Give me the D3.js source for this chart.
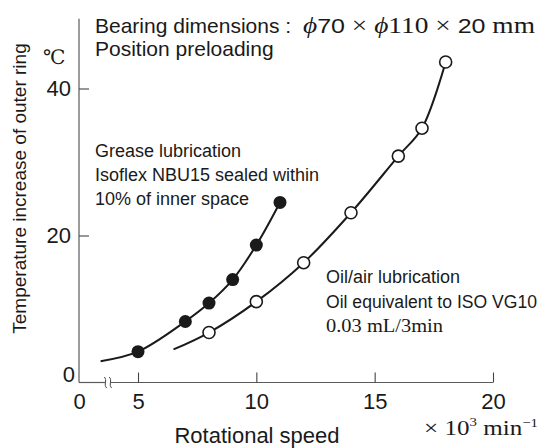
<!DOCTYPE html>
<html>
<head>
<meta charset="utf-8">
<script src="https://cdn.jsdelivr.net/npm/d3@7"></script>
<style>
  html, body { margin: 0; padding: 0; background: #fff; }
  svg { display: block; }
  .sans { font-family: "Liberation Sans", Arial, Helvetica, sans-serif; fill: #1a1a1a; }
  .serif { font-family: "Liberation Serif", "Times New Roman", serif; fill: #1a1a1a; }
</style>
</head>
<body>
<svg id="chart" width="547" height="448"></svg>
<script>
// ---- data ----
const speedTicks = [0, 5, 10, 15, 20];          // x10^3 min^-1
const tempTicks = [0, 20, 40];                  // deg C
const greaseSpeed = [5, 7, 8, 9, 10, 11];
const greaseTemp = [4.2, 8.3, 10.8, 14.0, 18.7, 24.5];
const oilSpeed = [8, 10, 12, 14, 16, 17, 18];
const oilTemp = [6.8, 11.0, 16.3, 23.1, 30.8, 34.6, 43.6];
const greaseCurveStart = [3.42, 2.9];
const oilCurveStart = [6.5, 4.5];
const axisBreakAt = 3.73;
const yAxisTop = 49.5;

const svg = d3.select("#chart");

// ---- scales (broken x axis: 0..3 compressed) ----
const lin = d3.scaleLinear().domain([5, 20]).range([138, 493]);
const x = d3.scaleLinear().domain([0, 3, 20]).range([79, lin(3), 493]);
const y = d3.scaleLinear().domain([0, 40]).range([382.5, 88.5]);

const axisColor = "#5a5a5a";

// ---- axis lines ----
const bx = x(axisBreakAt);
svg.append("line").attr("x1", x(0)).attr("x2", bx - 2.5).attr("y1", y(0)).attr("y2", y(0))
  .attr("stroke", axisColor).attr("stroke-width", 1.2);
svg.append("line").attr("x1", bx + 2.5).attr("x2", x(20)).attr("y1", y(0)).attr("y2", y(0))
  .attr("stroke", axisColor).attr("stroke-width", 1.2);
svg.append("line").attr("x1", x(0)).attr("x2", x(0)).attr("y1", y(0)).attr("y2", y(yAxisTop))
  .attr("stroke", axisColor).attr("stroke-width", 1.2);
// break squiggles
[-2.5, 2.5].forEach(off => {
  const cx = bx + off, cy = y(0);
  svg.append("path")
    .attr("d", `M${cx - 1.2},${cy - 5.5} C${cx + 2.2},${cy - 2.5} ${cx - 2.2},${cy + 2.5} ${cx + 1.2},${cy + 5.5}`)
    .attr("fill", "none").attr("stroke", "#444").attr("stroke-width", 1);
});

// ---- x axis ticks & labels ----
const gx = svg.append("g").attr("transform", `translate(0,${y(0)})`)
  .call(d3.axisBottom(x).tickValues(speedTicks).tickSize(-10).tickPadding(11).tickFormat(d3.format("d")));
gx.select(".domain").remove();
gx.selectAll(".tick line").attr("stroke", "#444").attr("stroke-width", 1.1)
  .filter(d => d === 0).remove();
gx.selectAll(".tick text").attr("class", "sans").attr("font-size", 22)
  .attr("font-family", null).attr("fill", "#1a1a1a");

// ---- y axis ticks & labels ----
const gy = svg.append("g").attr("transform", `translate(${x(0)},0)`)
  .call(d3.axisLeft(y).tickValues(tempTicks).tickSize(-10).tickPadding(8).tickFormat(d3.format("d")));
gy.select(".domain").remove();
gy.selectAll(".tick line").attr("stroke", "#444").attr("stroke-width", 1.1)
  .filter(d => d === 0).remove();
gy.selectAll(".tick text").attr("class", "sans").attr("font-size", 22)
  .attr("font-family", null).attr("fill", "#1a1a1a");
gy.selectAll(".tick text").filter(d => d === 0).attr("x", -4).attr("dy", "0").attr("y", -1);

// ---- curves ----
const line = d3.line().x(d => x(d[0])).y(d => y(d[1])).curve(d3.curveCatmullRom.alpha(0.5));
const greasePts = greaseSpeed.map((s, i) => [s, greaseTemp[i]]);
const oilPts = oilSpeed.map((s, i) => [s, oilTemp[i]]);

svg.append("path").datum([greaseCurveStart, ...greasePts]).attr("d", line)
  .attr("fill", "none").attr("stroke", "#1a1a1a").attr("stroke-width", 2);
svg.append("path").datum([oilCurveStart, ...oilPts]).attr("d", line)
  .attr("fill", "none").attr("stroke", "#1a1a1a").attr("stroke-width", 2);

svg.append("g").selectAll("circle").data(greasePts).join("circle")
  .attr("cx", d => x(d[0])).attr("cy", d => y(d[1])).attr("r", 6.5)
  .attr("fill", "#1a1a1a");
svg.append("g").selectAll("circle").data(oilPts).join("circle")
  .attr("cx", d => x(d[0])).attr("cy", d => y(d[1])).attr("r", 6)
  .attr("fill", "#fff").attr("stroke", "#1a1a1a").attr("stroke-width", 1.6);

// ---- helper for text ----
function txt(cls, xx, yy, size, s, opts = {}) {
  const t = svg.append("text").attr("class", cls).attr("x", xx).attr("y", yy)
    .attr("font-size", size).text(s);
  if (opts.len) t.attr("textLength", opts.len).attr("lengthAdjust", "spacingAndGlyphs");
  if (opts.anchor) t.attr("text-anchor", opts.anchor);
  return t;
}
// mixed text: parts = [[string, {family, italic, size, dy}]]
function mixed(xx, yy, size, parts, len) {
  const t = svg.append("text").attr("class", "serif").attr("x", xx).attr("y", yy)
    .attr("font-size", size);
  parts.forEach(([s, o]) => {
    const ts = t.append("tspan").text(s);
    if (o && o.sans) ts.attr("class", "sans");
    if (o && o.italic) ts.attr("font-style", "italic");
    if (o && o.size) ts.attr("font-size", o.size);
    if (o && o.dy) ts.attr("dy", o.dy);
  });
  if (len) t.attr("textLength", len).attr("lengthAdjust", "spacingAndGlyphs");
  return t;
}

// ---- title ----
txt("sans", 95, 33, 21, "Bearing dimensions :");
mixed(303, 33, 23, [
  ["ϕ", { italic: true }], ["70", { sans: true, size: 21 }], [" × "],
  ["ϕ", { italic: true }], ["110"], [" × "], ["20", { sans: true, size: 21 }], [" mm"]
], 232);
txt("sans", 95, 56, 21, "Position preloading");

// ---- y-axis label & unit ----
svg.append("text").attr("class", "sans").attr("font-size", 19)
  .attr("text-anchor", "middle")
  .attr("transform", "translate(26,188.5) rotate(-90)")
  .text("Temperature increase of outer ring");
svg.append("text").attr("font-family", "'DejaVu Serif', 'Noto Sans CJK JP', serif")
  .attr("fill", "#1a1a1a").attr("font-size", 20).attr("x", 43).attr("y", 64)
  .text("℃");

// ---- x-axis label & unit ----
txt("sans", 257, 443, 22, "Rotational speed", { anchor: "middle" });
mixed(424, 435, 22, [
  ["× "], ["10"], ["3", { size: 13, dy: -9 }], [" min", { dy: 9 }], ["−1", { size: 13, dy: -8 }]
], 114);

// ---- annotations ----
txt("sans", 95, 157, 18, "Grease lubrication");
txt("sans", 95, 181, 18, "Isoflex NBU15 sealed within");
txt("sans", 95, 205, 18, "10% of inner space");

txt("sans", 326, 283, 18, "Oil/air lubrication");
txt("sans", 326, 308, 18, "Oil equivalent to ISO VG10", { len: 211 });
txt("serif", 326, 332, 18, "0.03 mL/3min", { len: 117 });
</script>
</body>
</html>
